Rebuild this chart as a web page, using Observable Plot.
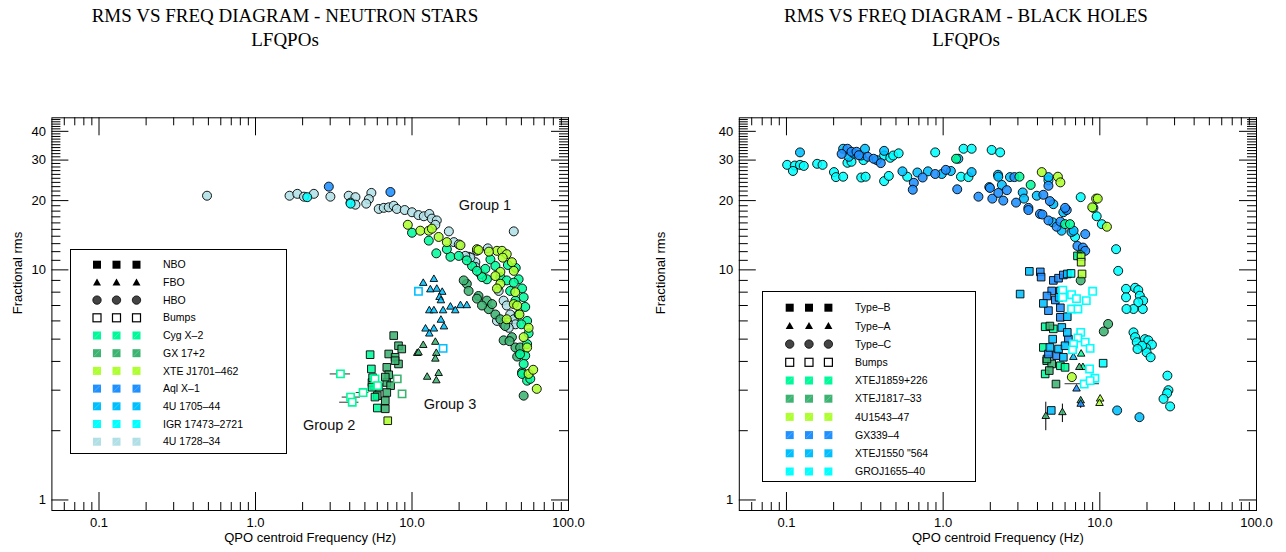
<!DOCTYPE html>
<html><head><meta charset="utf-8">
<script src="https://cdn.jsdelivr.net/npm/d3@7"></script>
<script src="https://cdn.jsdelivr.net/npm/@observablehq/plot@0.6"></script>
<style>
body{margin:0;background:#fff;}
#wrap{position:relative;width:1286px;height:552px;overflow:hidden;font-family:"Liberation Sans",Arial,sans-serif;}
.panel{position:absolute;top:0;width:643px;height:552px;}
.panel svg.plot{position:absolute;left:0;top:60px;}
.title{position:absolute;top:0;width:440px;padding-top:4px;font-family:"Liberation Serif","Times New Roman",serif;font-size:19px;text-align:center;line-height:24px;color:#000;white-space:nowrap;}
.legend{position:absolute;border:1px solid #000;background:#fff;box-sizing:border-box;}
.legend svg{position:absolute;left:0;top:0;}
</style></head>
<body><div id="wrap"></div>
<script>
// ---------- axes / ticks ----------
const X_TICKS = [0.1, 1, 10, 100];
const X_TICK_LABELS = ["0.1", "1.0", "10.0", "100.0"];
const X_MINOR = [0.06,0.07,0.08,0.09,0.2,0.3,0.4,0.5,0.6,0.7,0.8,0.9,2,3,4,5,6,7,8,9,20,30,40,50,60,70,80,90];
const Y_TICKS = [1, 10, 20, 30, 40];
const Y_MINOR = [2,3,4,5,6,7,8,9,11,12,13,14,15,16,17,18,19,21,22,23,24,25,26,27,28,29,31,32,33,34,35,36,37,38,39,41,42,43,44,45];

// ---------- colours ----------
const C_SPRING = "#00FA9A", C_SEA = "#3CB371", C_GY = "#ADFF2F", C_DODGER = "#1E90FF",
      C_DEEPSKY = "#00BFFF", C_CYAN = "#00FFFF", C_POWDER = "#B0E0E6";

// ---------- NEUTRON STARS data [freq Hz, rms %] ----------
const ns_4U1728_hbo = [[0.49,21.0],[1.65,21.0],[1.85,21.4],[2.04,20.8],[2.36,21.4],[3.01,20.8],[3.94,21.0],[4.35,20.7],[4.05,19.6],[4.35,19.2],[5.5,21.6],[5.3,20.3],[5.1,19.4],[6.13,18.4],[6.6,18.6],[7.1,18.7],[7.64,19.0],[8.0,18.4],[8.98,18.2],[10.0,17.8],[11.0,17.3],[11.9,17.1],[12.9,17.5],[13.4,16.7],[14.4,16.4],[14.1,15.7],[17.2,14.7],[18.5,13.2],[19.9,12.9],[23.1,11.4],[25.4,10.8],[23.6,11.3],[25.4,10.3],[30.5,12.4],[26.0,12.1],[21.9,11.5],[27.4,9.6],[35.8,8.1],[38.5,7.35],[40.3,7.0],[42.4,6.4],[44.7,6.1],[45.8,5.8],[40.8,5.9],[34.9,6.0],[38.5,5.8],[41.5,5.6],[44.7,14.7]];
const ns_IGR_hbo = [[2.14,20.7],[4.05,19.4]];
const ns_Aql_hbo = [[2.94,23.0],[7.28,21.8]];
const ns_XTE_hbo = [[9.4,15.7],[11.3,14.8],[12.8,14.8],[13.4,15.1],[14.8,13.9],[16.7,13.2],[20.4,12.8],[26.0,12.3],[26.6,12.2],[34.9,12.1],[37.6,12.1],[40.3,11.7],[43.5,10.8],[44.7,9.9],[36.7,9.8],[34.1,9.4],[36.7,8.7],[45.7,8.0],[44.7,7.1],[48.6,6.4],[55.6,5.6],[51.7,5.1],[54.4,4.6],[55.6,3.53],[62.7,3.04],[59.5,3.68],[40.3,6.1],[47.0,7.0],[34.9,8.3],[38.0,11.3],[31.0,12.0]];
const ns_Cyg_hbo = [[10.0,14.5],[12.8,13.4],[14.3,11.8],[17.6,11.4],[19.9,11.5],[24.2,10.4],[29.4,10.1],[30.1,9.1],[36.7,9.3],[40.3,9.0],[48.0,9.1],[50.5,8.3],[51.7,7.6],[52.9,6.9],[54.4,6.0],[55.6,5.3],[54.4,4.76],[52.9,4.24],[51.7,3.9],[50.5,3.53],[54.4,3.3],[57.0,3.36],[44.7,8.8],[42.4,8.1],[45.8,7.35],[48.0,6.4],[31.7,11.1],[28.0,9.3],[34.1,10.4],[26.0,9.9],[16.7,12.3],[22.4,11.0],[50.0,5.8],[49.0,4.3],[46.0,10.2],[41.0,10.5]];
const ns_GX_hbo = [[22.4,8.7],[23.0,8.1],[26.6,7.7],[26.0,7.5],[30.9,6.75],[34.1,6.4],[36.7,6.1],[39.4,5.7],[38.5,4.94],[43.5,5.1],[45.8,4.6],[49.1,4.6],[50.5,3.59],[51.7,2.84],[30.1,7.35],[32.5,7.1],[21.4,9.0],[28.0,7.0],[47.0,4.2],[42.0,4.9]];
const ns_4U1705_fbo = [[11.8,8.75],[13.8,9.1],[13.1,8.2],[14.4,8.25],[15.6,8.0],[15.0,7.6],[15.3,7.35],[12.9,6.65],[13.8,6.65],[15.8,6.65],[17.6,6.9],[18.9,6.65],[20.4,7.0],[22.4,7.0],[15.3,6.05],[16.0,5.66],[12.2,5.54],[13.8,5.54],[12.9,5.27]];
const ns_GX_fbo = [[11.8,4.7],[10.8,4.34],[11.0,4.36],[14.1,4.85],[14.3,4.34],[14.1,4.1],[12.5,3.42],[14.8,3.55],[14.3,3.3]];
const ns_GX_nbo = [[7.64,5.18],[8.2,4.68],[8.6,4.53],[7.1,4.31],[7.8,4.17],[8.2,3.9],[6.9,3.77],[7.1,3.5],[6.9,3.24],[7.3,3.14],[6.9,2.93],[6.75,2.7],[6.1,3.09],[5.7,3.14],[5.55,3.24],[6.0,2.84],[6.75,2.49],[7.8,4.03],[6.75,3.42]];
const ns_Cyg_nbo = [[5.4,4.28],[5.5,3.71],[6.0,2.51],[5.55,3.09],[5.8,2.8],[5.6,3.4]];
const ns_XTE_nbo = [[7.0,2.21]];
const ns_Cyg_bump = [[3.49,3.53],[4.05,2.8],[4.15,2.66],[4.87,2.93],[5.8,3.36],[6.04,3.14]];
const ns_GX_bump = [[8.05,3.36],[8.64,2.89]];
const ns_4U1705_bump = [[11.0,8.07],[15.8,4.56]];
// horizontal error bars [rms, f low, f high]
const ns_errX = [[3.53,3.0,4.05],[2.8,3.58,4.68],[2.66,3.45,4.58],[2.93,4.4,5.3]];
const ns_texts = [["Group 1",19.9,19.0],["Group 2",2.01,2.1],["Group 3",11.9,2.61]];

// ---------- BLACK HOLES data ----------
const bh_GRO_c = [[0.101,28.6],[0.113,28.4],[0.122,28.6],[0.129,28.3],[0.11,26.9],[0.157,28.9],[0.17,28.6],[0.201,26.6],[0.207,25.3],[0.23,25.4],[0.245,29.2],[0.26,29.5],[0.31,30.0],[0.30,25.2],[0.32,25.4],[0.42,31.4],[0.46,30.7],[0.48,31.4],[0.52,32.1],[0.42,24.3],[0.45,25.6],[0.59,25.4],[0.89,32.4],[1.30,25.4],[1.35,33.6],[1.45,25.3],[1.52,33.6],[2.04,33.2],[2.31,32.4],[4.7,24.5],[6.95,13.9],[7.55,20.7],[9.55,17.1],[10.3,15.8],[12.7,12.3],[13.1,9.9],[14.7,8.27],[14.7,7.6],[16.8,8.36],[17.6,8.17],[18.0,7.72],[18.9,7.35],[18.8,6.76],[17.6,7.23],[16.4,6.76],[14.8,6.76],[16.4,5.35],[16.8,5.1],[17.2,4.85],[19.4,5.0],[20.4,4.94],[21.5,4.73],[19.7,4.58],[19.9,4.38],[21.1,4.17],[18.6,4.68],[17.4,4.53],[27.0,3.47],[27.4,3.0],[26.9,2.91],[25.5,2.75],[28.1,2.55]];
const bh_1550_c = [[0.122,32.4],[0.23,33.6],[0.25,31.0],[0.27,32.0],[0.30,31.4],[0.317,33.6],[0.377,30.0],[0.42,32.9],[0.55,26.8],[0.685,26.5],[0.80,26.8],[0.98,26.1],[1.12,26.9],[1.25,30.4],[1.52,26.6],[2.24,25.9],[2.37,23.4],[1.97,22.9],[2.25,25.4],[2.67,25.3],[3.22,21.7],[3.28,20.4],[4.7,25.3],[3.96,21.0],[5.05,19.3],[5.0,16.1],[5.7,14.8],[6.6,14.6],[5.85,17.8],[6.8,14.8],[12.9,2.45],[17.9,2.29]];
const bh_GX339_c = [[0.245,33.6],[0.26,32.6],[0.28,32.6],[0.225,31.9],[0.29,31.5],[0.33,31.0],[0.36,30.4],[0.40,29.1],[0.65,23.9],[0.64,22.3],[0.74,25.2],[0.89,26.1],[1.04,27.2],[1.23,22.4],[1.68,20.8],[1.99,22.7],[2.06,20.4],[2.25,21.6],[2.42,20.0],[2.55,22.2],[2.85,25.3],[2.92,19.6],[3.5,18.6],[4.36,21.2],[4.7,23.2],[4.8,19.9],[3.5,18.2],[4.15,17.5],[4.3,17.4],[4.7,16.4],[5.3,15.4],[5.6,16.2],[6.15,18.2],[6.0,18.6],[8.07,14.3],[7.2,12.7],[7.8,12.5],[8.07,12.1]];
const bh_1859_c = [[1.21,30.4],[3.62,23.4],[3.07,25.4],[6.0,15.8],[6.45,15.8],[9.1,18.6],[7.5,11.6]];
const bh_1817_c = [[11.3,5.82],[10.6,5.4],[7.55,9.0]];
const bh_1543_c = [[4.26,26.6],[5.4,25.4],[5.6,24.0],[9.47,20.4],[9.7,20.4],[11.1,15.4],[8.95,18.7],[6.63,3.42]];
const bh_GX339_b = [[4.17,9.8],[4.22,9.3],[5.05,9.0],[5.45,9.2],[5.85,9.5],[4.93,8.1],[4.7,6.65],[5.6,6.84],[5.6,6.22],[5.3,4.24],[4.7,4.31],[6.3,5.0],[5.2,7.4],[4.6,7.7]];
const bh_1550_b = [[3.55,9.85],[3.1,7.85],[6.2,9.6],[5.6,8.1],[4.36,7.15],[6.2,6.26],[5.72,5.62],[6.2,5.35],[4.8,4.6],[5.45,4.53],[6.0,4.68],[4.9,2.45],[5.85,4.17],[5.0,5.0],[5.5,7.6]];
const bh_GRO_b = [[6.55,9.65],[10.5,3.93]];
const bh_1859_b = [[4.48,5.66],[5.05,5.54],[4.36,4.6],[4.58,4.03],[5.6,3.83],[4.48,3.53],[6.0,3.77],[7.2,11.5]];
const bh_1817_b = [[4.8,5.7],[4.93,3.9],[4.76,3.65],[5.25,3.19],[4.6,4.1]];
const bh_1543_b = [[7.6,11.4],[7.6,10.8],[7.7,9.6]];
const bh_1550_a = [[6.78,4.17]];
const bh_1859_a = [[7.6,4.31],[7.8,3.77]];
const bh_1817_a = [[7.4,3.77],[7.55,2.7],[4.52,2.31],[5.77,2.4]];
const bh_GX339_a = [[7.1,3.04],[7.55,2.61]];
const bh_1543_a = [[10.05,2.75],[9.95,2.63]];
const bh_GRO_bump = [[5.8,8.17],[6.6,7.8],[5.8,7.6],[7.1,7.5],[8.2,7.35],[9.0,8.07],[6.6,6.76],[7.25,6.76],[7.55,5.35],[7.25,5.06],[8.07,4.85],[6.8,4.76],[8.67,4.56],[6.7,4.49],[8.6,3.71],[9.3,3.38],[7.95,3.19],[8.67,3.3]];
// vertical error bars [freq, rms low, rms high]; horizontal [rms, f low, f high]
const bh_errY = [[4.52,2.0,2.66],[5.77,2.17,2.61],[7.55,2.5,2.75]];
const bh_errX = [[3.2,6.0,9.95]];

// ---------- legends ----------
const ns_legend = [["NBO","k-square"],["FBO","k-triangle"],["HBO","k-circle"],["Bumps","k-open"],
  ["Cyg X–2",C_SPRING],["GX 17+2",C_SEA],["XTE J1701–462",C_GY],["Aql X–1",C_DODGER],
  ["4U 1705–44",C_DEEPSKY],["IGR 17473–2721",C_CYAN],["4U 1728–34",C_POWDER]];
const bh_legend = [["Type–B","k-square"],["Type–A","k-triangle"],["Type–C","k-circle"],["Bumps","k-open"],
  ["XTEJ1859+226",C_SPRING],["XTEJ1817–33",C_SEA],["4U1543–47",C_GY],["GX339–4",C_DODGER],
  ["XTEJ1550 \"564",C_DEEPSKY],["GROJ1655–40",C_CYAN]];

const SYM = {c: "circle", b: "square", a: "triangle"};
const R = {c: 4.5, b: 4.3, a: 2.8};

function makePanel(opt) {
  const W = 643, H = 492, mt = 57.3, mb = 42;
  const fw = W - opt.ml - opt.mr, fh = H - mt - mb;
  const marks = [
    Plot.ruleY(opt.errX, {y: d => d[0], x1: d => d[1], x2: d => d[2], stroke: "#333", strokeWidth: 1}),
    Plot.ruleX(opt.errY, {x: d => d[0], y1: d => d[1], y2: d => d[2], stroke: "#000", strokeWidth: 1})
  ];
  for (const s of opt.series) {
    marks.push(Plot.dot(s.data, {x: d => d[0], y: d => d[1], symbol: SYM[s.t], r: R[s.t],
      fill: s.color, fillOpacity: 0.88, stroke: "#000", strokeWidth: 0.9}));
  }
  for (const s of opt.bumps) {
    marks.push(Plot.dot(s.data, {x: d => d[0], y: d => d[1], symbol: "square", r: 4.1,
      fill: "#fff", stroke: s.color, strokeWidth: 1.6}));
  }
  marks.push(
    Plot.text(opt.texts, {x: d => d[1], y: d => d[2], text: d => d[0], textAnchor: "start", fontSize: 14.5, fill: "#111"}),
    Plot.frame({stroke: "#000", strokeWidth: 1}),
    Plot.tickX(X_MINOR, {x: d => d, insetTop: fh - 8, stroke: "#000"}),
    Plot.tickX(X_MINOR, {x: d => d, insetBottom: fh - 8, stroke: "#000"}),
    Plot.tickX(X_TICKS, {x: d => d, insetTop: fh - 18, stroke: "#000"}),
    Plot.tickX(X_TICKS, {x: d => d, insetBottom: fh - 18, stroke: "#000"}),
    Plot.tickY(Y_MINOR, {y: d => d, insetRight: fw - 9, stroke: "#000"}),
    Plot.tickY(Y_MINOR, {y: d => d, insetLeft: fw - 9, stroke: "#000"}),
    Plot.tickY(Y_TICKS, {y: d => d, insetRight: fw - 17, stroke: "#000"}),
    Plot.tickY(Y_TICKS, {y: d => d, insetLeft: fw - 17, stroke: "#000"}),
    Plot.axisX(X_TICKS, {tickSize: 0, tickPadding: 7, label: null, fontSize: 13,
      tickFormat: d => X_TICK_LABELS[X_TICKS.indexOf(d)]}),
    Plot.axisY(Y_TICKS, {tickSize: 0, tickPadding: 6, label: null, fontSize: 13, tickFormat: d => String(d)}),
    Plot.text(["QPO centroid Frequency (Hz)"], {frameAnchor: "bottom", dy: 31, text: d => d, fontSize: 13}),
    Plot.text(["Fractional rms"], {frameAnchor: "left", dx: -(opt.ml - 17), rotate: -90, text: d => d, fontSize: 13})
  );
  const chart = Plot.plot({
    width: W, height: H, marginTop: mt, marginBottom: mb, marginLeft: opt.ml, marginRight: opt.mr,
    x: {type: "log", domain: [0.05, 100]},
    y: {type: "log", domain: [0.9, 45.8]},
    style: {fontFamily: "'Liberation Sans', Arial, sans-serif", fontSize: "13px", color: "#000", background: "#fff", overflow: "visible"},
    marks
  });
  chart.classList.add("plot");
  const p = d3.select("#wrap").append("div").attr("class", "panel").style("left", opt.left + "px");
  p.node().appendChild(chart);
  p.append("div").attr("class", "title").style("left", (opt.titleX - 220) + "px")
    .html(opt.title + "<br>LFQPOs");
  // legend
  const lg = opt.legend;
  const box = p.append("div").attr("class", "legend")
    .style("left", lg.x + "px").style("top", lg.y + "px")
    .style("width", lg.w + "px").style("height", lg.h + "px");
  const svg = box.append("svg").attr("width", lg.w).attr("height", lg.h);
  lg.rows.forEach((row, i) => {
    const cy = lg.row0 + i * lg.step;
    for (const cx of lg.symX) {
      const k = row[1];
      if (k === "k-square") {
        svg.append("rect").attr("x", cx - 4).attr("y", cy - 4).attr("width", 8).attr("height", 8).attr("fill", "#000");
      } else if (k === "k-triangle") {
        svg.append("path").attr("d", `M${cx},${cy - 4}L${cx + 4},${cy + 3}L${cx - 4},${cy + 3}Z`).attr("fill", "#000");
      } else if (k === "k-circle") {
        svg.append("circle").attr("cx", cx).attr("cy", cy).attr("r", 4.2).attr("fill", "#444").attr("stroke", "#000").attr("stroke-width", 0.8);
      } else if (k === "k-open") {
        svg.append("rect").attr("x", cx - 4).attr("y", cy - 4).attr("width", 8).attr("height", 8).attr("fill", "#fff").attr("stroke", "#000").attr("stroke-width", 1.2);
      } else {
        svg.append("rect").attr("x", cx - 4).attr("y", cy - 4).attr("width", 8).attr("height", 8).attr("fill", k);
        svg.append("line").attr("x1", cx - 3).attr("y1", cy + 3).attr("x2", cx + 3).attr("y2", cy - 3).attr("stroke", "#fff").attr("stroke-opacity", 0.35).attr("stroke-width", 0.7);
      }
    }
    svg.append("text").attr("x", lg.textX).attr("y", cy).attr("dy", "0.35em")
      .attr("font-family", "'Liberation Sans', Arial, sans-serif").attr("font-size", 10.5).text(row[0]);
  });
}

makePanel({
  left: 0, ml: 51.4, mr: 75, titleX: 285,
  title: "RMS VS FREQ DIAGRAM - NEUTRON STARS",
  series: [
    {data: ns_4U1728_hbo, color: C_POWDER, t: "c"},
    {data: ns_IGR_hbo, color: C_CYAN, t: "c"},
    {data: ns_Aql_hbo, color: C_DODGER, t: "c"},
    {data: ns_GX_hbo, color: C_SEA, t: "c"},
    {data: ns_Cyg_hbo, color: C_SPRING, t: "c"},
    {data: ns_XTE_hbo, color: C_GY, t: "c"},
    {data: ns_GX_nbo, color: C_SEA, t: "b"},
    {data: ns_Cyg_nbo, color: C_SPRING, t: "b"},
    {data: ns_XTE_nbo, color: C_GY, t: "b"},
    {data: ns_4U1705_fbo, color: C_DEEPSKY, t: "a"},
    {data: ns_GX_fbo, color: C_SEA, t: "a"}
  ],
  bumps: [
    {data: ns_Cyg_bump, color: C_SPRING},
    {data: ns_GX_bump, color: C_SEA},
    {data: ns_4U1705_bump, color: C_DEEPSKY}
  ],
  errX: ns_errX, errY: [], texts: ns_texts,
  legend: {x: 69.5, y: 249.3, w: 217, h: 205, row0: 14.7, step: 17.7, symX: [26, 45.5, 65.5], textX: 92, rows: ns_legend}
});

makePanel({
  left: 643, ml: 95.8, mr: 30, titleX: 323,
  title: "RMS VS FREQ DIAGRAM - BLACK HOLES",
  series: [
    {data: bh_GRO_c, color: C_CYAN, t: "c"},
    {data: bh_1550_c, color: C_DEEPSKY, t: "c"},
    {data: bh_GX339_c, color: C_DODGER, t: "c"},
    {data: bh_1859_c, color: C_SPRING, t: "c"},
    {data: bh_1817_c, color: C_SEA, t: "c"},
    {data: bh_1543_c, color: C_GY, t: "c"},
    {data: bh_1859_b, color: C_SPRING, t: "b"},
    {data: bh_1817_b, color: C_SEA, t: "b"},
    {data: bh_1543_b, color: C_GY, t: "b"},
    {data: bh_GX339_b, color: C_DODGER, t: "b"},
    {data: bh_1550_b, color: C_DEEPSKY, t: "b"},
    {data: bh_GRO_b, color: C_CYAN, t: "b"},
    {data: bh_1550_a, color: C_DEEPSKY, t: "a"},
    {data: bh_1859_a, color: C_SPRING, t: "a"},
    {data: bh_1817_a, color: C_SEA, t: "a"},
    {data: bh_GX339_a, color: C_DODGER, t: "a"},
    {data: bh_1543_a, color: C_GY, t: "a"}
  ],
  bumps: [{data: bh_GRO_bump, color: C_CYAN}],
  errX: bh_errX, errY: bh_errY, texts: [],
  legend: {x: 119.3, y: 291, w: 213.4, h: 191.3, row0: 15.7, step: 18.2, symX: [26.7, 46, 65.4], textX: 92, rows: bh_legend}
});
</script></body></html>
